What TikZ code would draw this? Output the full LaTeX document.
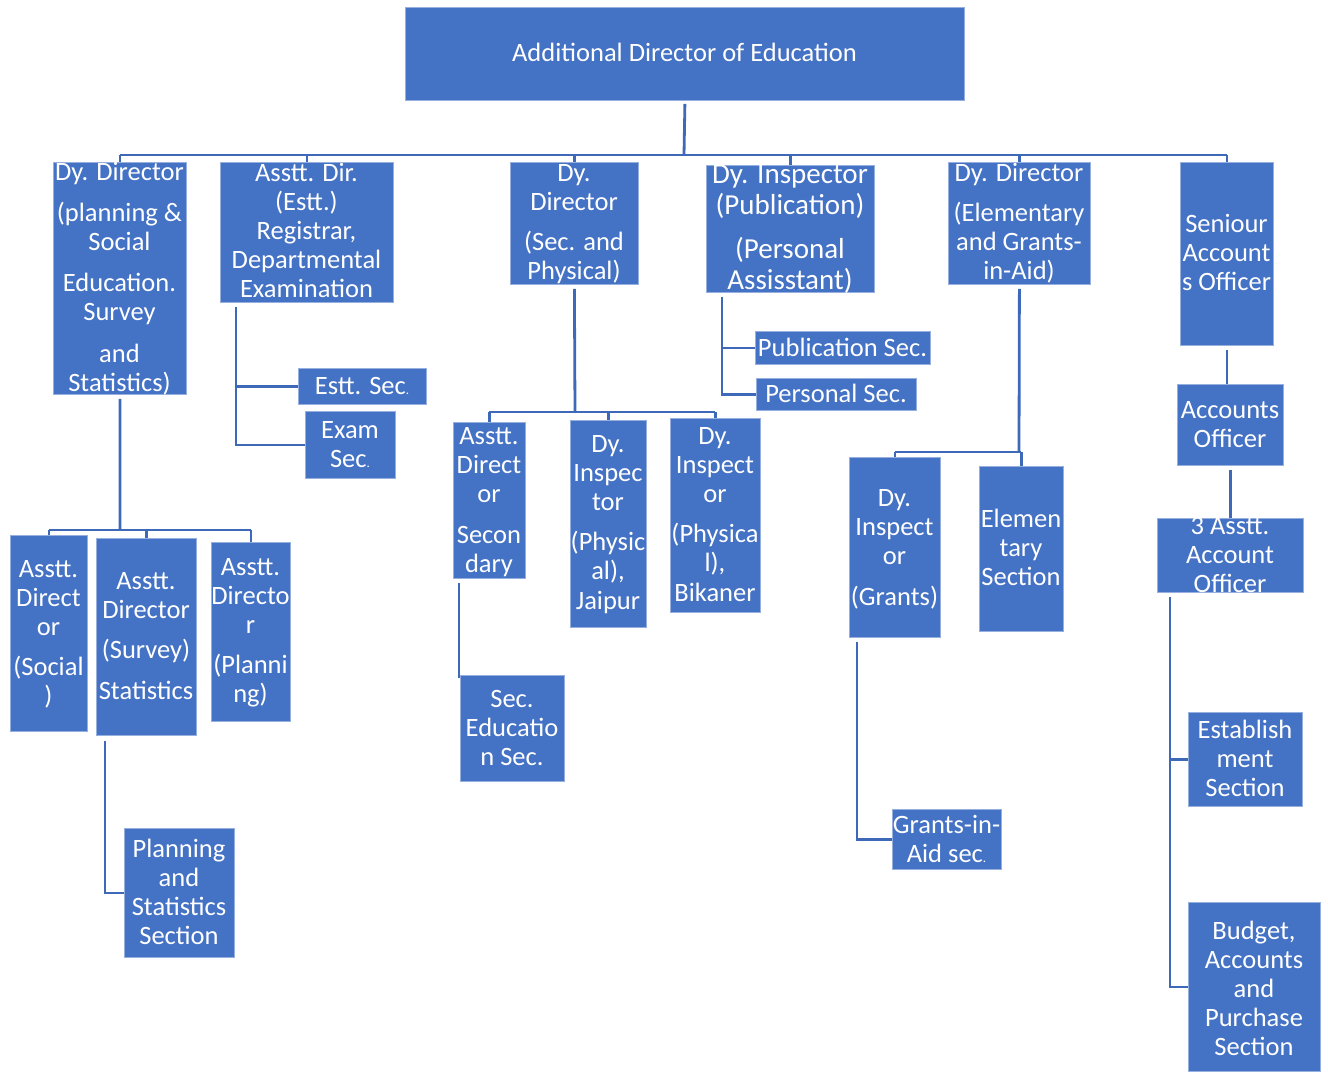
\documentclass[tikz,border=0pt]{standalone}
\usepackage{fontspec}
\setmainfont{Carlito}
\definecolor{boxblue}{RGB}{68,114,196}
\definecolor{edgeblue}{RGB}{150,175,222}
\definecolor{lineblue}{RGB}{62,104,184}
% small full stop used after a few section names
\newcommand\sdot{{\fontsize{13}{13}\selectfont .}}
% centred lines whose baseline is that of the first line
\newcommand\lines[1]{\begin{tabular}[t]{@{}c@{}}#1\end{tabular}}
% \obox{name}{x1}{y1}{x2}{y2}{first baseline}{text}
\newcommand\obox[7]{%
  \node[box, minimum width={#4-#2}, minimum height={#5-#3}] (#1) at (#2,#3) {};
  \node[lbl] (#1-t) at ({(#2+#4)/2},#6) {\lines{#7}};}
\begin{document}
\begin{tikzpicture}[x=1pt,y=-1pt,
  box/.style={fill=boxblue, draw=edgeblue, line width=0.8pt, inner sep=0pt, anchor=north west},
  lbl/.style={text=white, inner sep=0pt, anchor=base,
    font=\fontsize{26.5}{29.2}\selectfont},
  conn/.style={draw=lineblue, line width=2.8pt}]
\useasboundingbox (0,0) rectangle (1328,1071);

% head of the chart
\obox{top}{405}{7}{964}{100}{61}{Additional Director of Education}

% first level
\obox{dd1}{53}{162}{186}{394}{180}{Dy. Director\\[12pt](planning \&\\Social\\[12pt]Education.\\Survey\\[12pt]and\\Statistics)}
\obox{ad}{220}{162}{393}{302}{181}{Asstt. Dir.\\(Estt.)\\Registrar,\\Departmental\\Examination}
\obox{dd2}{510}{162}{638}{284}{181}{Dy.\\Director\\[11pt](Sec. and\\Physical)}
\node[box, minimum width=168, minimum height=127] (di) at (706,165) {};
\node[lbl, font=\fontsize{29}{31.3}\selectfont] (di-t) at (790,183)
  {\lines{Dy. Inspector\\(Publication)\\[13pt](Personal\\Assisstant)}};
\obox{dd3}{948}{162}{1090}{284}{181}{Dy. Director\\[11pt](Elementary\\and Grants-\\in-Aid)}
\obox{sao}{1180}{162}{1273}{345}{232}{Seniour\\Account\\s Officer}

% under the planning branch
\obox{a1}{10}{535}{87}{731}{577}{Asstt.\\Direct\\or\\[11pt](Social\\)}
\obox{a2}{96}{538}{196}{735}{589}{Asstt.\\Director\\[11pt](Survey)\\[12pt]Statistics}
\obox{a3}{211}{542}{290}{721}{575}{Asstt.\\Directo\\r\\[11pt](Planni\\ng)}
\obox{pl}{124}{828}{234}{957}{857}{Planning\\and\\Statistics\\Section}

% establishment branch
\obox{es}{298}{368}{426}{404}{394}{Estt. Sec\sdot}
\obox{ex}{305}{411}{395}{478}{438}{Exam\\Sec\sdot}

% secondary and physical branch
\obox{c1}{453}{422}{525}{578}{444}{Asstt.\\Direct\\or\\[12pt]Secon\\dary}
\obox{c2}{570}{420}{646}{627}{452}{Dy.\\Inspec\\tor\\[11pt](Physic\\al),\\Jaipur}
\obox{c3}{670}{418}{760}{612}{444}{Dy.\\Inspect\\or\\[11pt](Physica\\l),\\Bikaner}
\obox{se}{460}{675}{564}{781}{707}{Sec.\\Educatio\\n Sec.}

% publication branch
\obox{ps}{755}{331}{930}{364}{356}{Publication Sec.}
\obox{pe}{756}{378}{916}{410}{402}{Personal Sec.}

% elementary branch
\obox{e1}{849}{457}{940}{637}{506}{Dy.\\Inspect\\or\\[12pt](Grants)}
\obox{e2}{979}{466}{1063}{631}{527}{Elemen\\tary\\Section}
\obox{ga}{892}{809}{1001}{869}{833}{Grants-in-\\Aid sec\sdot}

% accounts branch
\obox{ao}{1177}{384}{1283}{465}{418}{Accounts\\Officer}
\obox{aa}{1157}{518}{1303}{592}{534}{3 Asstt.\\Account\\Officer}
\obox{est}{1188}{712}{1302}{806}{738}{Establish\\ment\\Section}
\obox{bud}{1188}{902}{1320}{1071}{939}{Budget,\\Accounts\\and\\Purchase\\Section}

% connectors: top level
\coordinate (bus) at (684,155);
\draw[conn] ([yshift=-3pt]top.south) -- (bus);
\draw[conn] (dd1.north |- bus) -- (sao.north |- bus);
\foreach \n in {dd1,ad,dd2,di,dd3,sao}
  \draw[conn] (\n.north |- bus) -- (\n.north);

% planning branch
\coordinate (busa) at (120,530);
\draw[conn] ([yshift=-4pt]dd1.south) -- (busa);
\draw[conn] (a1.north |- busa) -- (a3.north |- busa);
\foreach \n in {a1,a2,a3}
  \draw[conn] (\n.north |- busa) -- (\n.north);
\draw[conn] ([xshift=9pt,yshift=-5pt]a2.south west) |- (pl.west);

% establishment branch
\draw[conn] ([xshift=16pt,yshift=-4pt]ad.south west) |- (es.west);
\draw[conn] ([xshift=16pt,yshift=-4pt]ad.south west) |- (ex.west);

% secondary branch
\coordinate (busc) at (575,412);
\draw[conn] ([yshift=-4pt]dd2.south) -- (busc);
\draw[conn] (c1.north |- busc) -- (c3.north |- busc);
\foreach \n in {c1,c2,c3}
  \draw[conn] (\n.north |- busc) -- (\n.north);
\draw[conn] ([xshift=6pt,yshift=-4pt]c1.south west) |- ([yshift=-2pt]se.north west);

% publication branch
\draw[conn] ([xshift=16pt,yshift=-4pt]di.south west) |- (ps.west);
\draw[conn] ([xshift=16pt,yshift=-4pt]di.south west) |- (pe.west);

% elementary branch
\coordinate (buse) at (1019,452);
\draw[conn] ([yshift=-4pt]dd3.south) -- (buse);
\draw[conn] (e1.north |- buse) -- (e2.north |- buse);
\foreach \n in {e1,e2}
  \draw[conn] (\n.north |- buse) -- (\n.north);
\draw[conn] ([xshift=8pt,yshift=-4pt]e1.south west) |- (ga.west);

% accounts branch
\draw[conn] ([yshift=-4pt]sao.south) -- (sao.south |- ao.north);
\draw[conn] ([yshift=-4pt]ao.south) -- (ao.south |- aa.north);
\draw[conn] ([xshift=13pt,yshift=-4pt]aa.south west) |- (est.west);
\draw[conn] ([xshift=13pt,yshift=-4pt]aa.south west) |- (bud.west);
\end{tikzpicture}
\end{document}
